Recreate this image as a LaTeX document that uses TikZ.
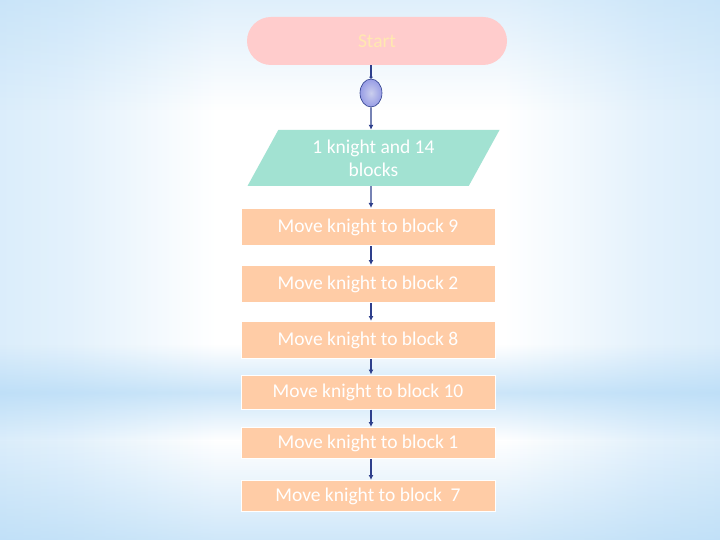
\documentclass[tikz,border=0pt]{standalone}
\usepackage{fontspec}
\setmainfont{Carlito}
\usetikzlibrary{shapes.geometric,shapes.misc,arrows.meta,shadings,fadings}
\definecolor{bgblue}{HTML}{B0D8F6}
\definecolor{pinkfill}{HTML}{FFCCCC}
\definecolor{tealfill}{HTML}{A2E2D2}
\definecolor{peach}{HTML}{FFCCA6}
\definecolor{linkblue}{HTML}{2E3F8C}
\definecolor{starttext}{HTML}{FFE8B0}
\definecolor{ovalfill}{HTML}{A8AEE2}
\pgfdeclarehorizontalshading{bgh}{100bp}{color(0bp)=(bgblue); color(30bp)=(bgblue!35!white); color(40bp)=(white); color(60bp)=(white); color(70bp)=(bgblue!35!white); color(100bp)=(bgblue)}
\tikzfading[name=bandfade, top color=transparent!100, bottom color=transparent!100, middle color=transparent!35]
\tikzfading[name=bottomfade, top color=transparent!100, bottom color=transparent!40]
\tikzfading[name=topfade, top color=transparent!60, bottom color=transparent!100]
\tikzset{
  boxstyle/.style={draw=white, line width=1pt, fill=peach, minimum width=254pt, minimum height=37pt, inner sep=0pt, text=white, font=\fontsize{19.5}{22}\selectfont},
  flowline/.style={draw=linkblue, line width=1.3pt, -{Latex[length=5pt,width=5pt]}},
  plainline/.style={draw=linkblue, line width=1.3pt},
}
\begin{document}
\begin{tikzpicture}[x=1pt,y=-1pt]
\useasboundingbox (0,0) rectangle (720,540);
% background
\shade[shading=bgh] (0,0) rectangle (720,540);
\fill[bgblue, path fading=topfade] (0,0) rectangle (720,110);
\fill[bgblue, path fading=bandfade] (0,345) rectangle (720,440);
\fill[bgblue, path fading=bottomfade] (0,440) rectangle (720,540);
% nodes
\node[fill=pinkfill, rounded rectangle, minimum width=260pt, minimum height=48pt, inner sep=0pt, text=starttext, font=\fontsize{19.5}{22}\selectfont] (start) at (377,41) {Start};
\node[ellipse, draw=linkblue, line width=0.6pt, inner color=ovalfill!60!white, outer color=ovalfill!90!blue, minimum width=22pt, minimum height=28pt, inner sep=0pt] (oval) at (371,93) {};
\node[trapezium, trapezium left angle=50, trapezium right angle=130, fill=tealfill, minimum width=252pt, minimum height=56pt, inner sep=0pt, trapezium stretches body, text=white, align=center, font=\fontsize{19.5}{23}\selectfont] (data) at (373.5,158) {1 knight and 14\\blocks};
\node[boxstyle] (b1) at (368,227) {Move knight to block 9};
\node[boxstyle] (b2) at (368,284) {Move knight to block 2};
\node[boxstyle] (b3) at (368,340) {Move knight to block 8};
\node[boxstyle, minimum height=34pt] (b4) at (368,392) {Move knight to block 10};
\node[boxstyle, minimum height=31pt] (b5) at (368,443) {Move knight to block 1};
\node[boxstyle, minimum height=31pt] (b6) at (368,496) {Move knight to block\ \ 7};
% connectors
\draw[plainline, -{Circle[length=3pt]}] ([xshift=-6pt]start.south) -- (oval.north);
\draw[flowline] (oval.south) -- ([xshift=-2.5pt]data.north);
\draw[flowline] ([xshift=-2.5pt]data.south) -- ([xshift=3pt]b1.north);
\draw[flowline] ([xshift=3pt]b1.south) -- ([xshift=3pt]b2.north);
\draw[flowline] ([xshift=3pt]b2.south) -- ([xshift=3pt]b3.north);
\draw[flowline] ([xshift=3pt]b3.south) -- ([xshift=3pt]b4.north);
\draw[flowline] ([xshift=3pt]b4.south) -- ([xshift=3pt]b5.north);
\draw[flowline] ([xshift=3pt]b5.south) -- ([xshift=3pt]b6.north);
\end{tikzpicture}
\end{document}
